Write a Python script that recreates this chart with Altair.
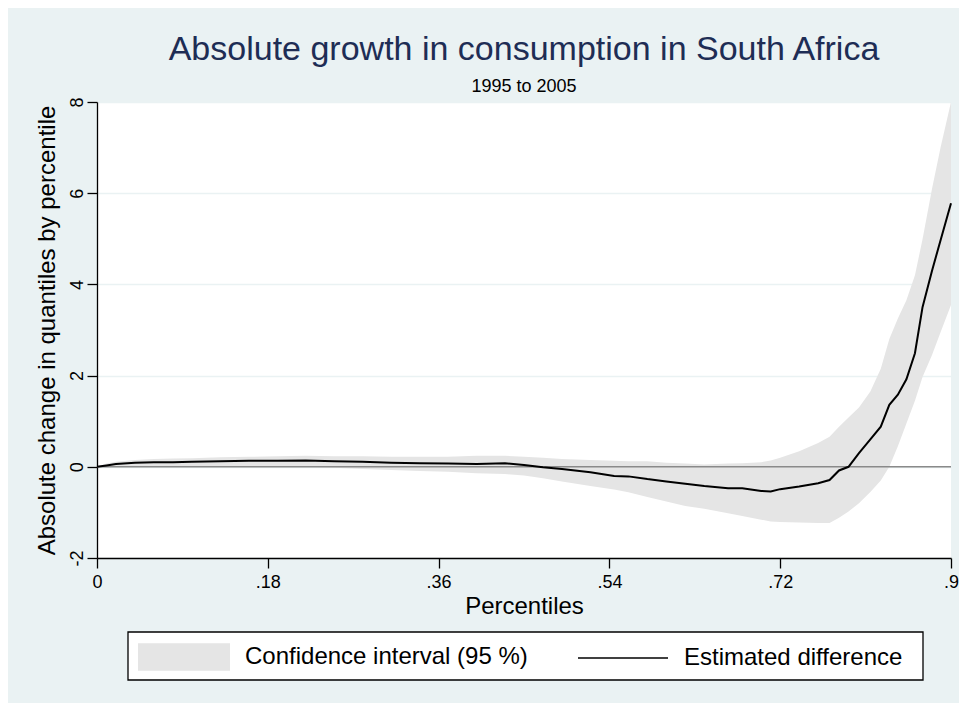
import altair as alt
import pandas as pd

# Percentiles (x) and readings
pct = [0.00, 0.01, 0.02, 0.04, 0.06, 0.08, 0.10, 0.13, 0.16, 0.19, 0.22, 0.25,
       0.28, 0.31, 0.34, 0.37, 0.40, 0.43, 0.45, 0.47, 0.49, 0.52, 0.545, 0.56,
       0.58, 0.60, 0.62, 0.64, 0.665, 0.68, 0.70, 0.71, 0.72, 0.74, 0.76, 0.772,
       0.782, 0.792, 0.803, 0.815, 0.826, 0.835, 0.844, 0.853, 0.862, 0.870,
       0.880, 0.889, 0.90]
estimate = [0.00, 0.03, 0.06, 0.09, 0.10, 0.10, 0.11, 0.12, 0.13, 0.13, 0.14, 0.12,
            0.11, 0.09, 0.08, 0.07, 0.06, 0.08, 0.04, -0.01, -0.05, -0.12, -0.20, -0.21,
            -0.27, -0.32, -0.37, -0.42, -0.47, -0.47, -0.53, -0.54, -0.49, -0.43, -0.36, -0.29,
            -0.08, 0.00, 0.30, 0.60, 0.88, 1.36, 1.58, 1.92, 2.49, 3.50,
            4.30, 4.97, 5.78]
ci_low = [0.00, -0.01, 0.00, 0.01, 0.02, 0.02, 0.02, 0.02, 0.02, 0.01, 0.00, -0.02,
          -0.05, -0.07, -0.09, -0.11, -0.14, -0.16, -0.19, -0.25, -0.32, -0.42, -0.50, -0.56,
          -0.66, -0.76, -0.86, -0.92, -1.02, -1.08, -1.16, -1.20, -1.21, -1.22, -1.23, -1.23,
          -1.12, -0.98, -0.80, -0.55, -0.30, 0.00, 0.45, 0.95, 1.45, 1.97,
          2.45, 2.95, 3.55]
ci_high = [0.00, 0.07, 0.11, 0.15, 0.17, 0.18, 0.19, 0.21, 0.22, 0.23, 0.24, 0.23,
           0.23, 0.22, 0.22, 0.22, 0.24, 0.24, 0.22, 0.20, 0.17, 0.15, 0.13, 0.12,
           0.12, 0.09, 0.07, 0.05, 0.07, 0.08, 0.10, 0.14, 0.20, 0.34, 0.52, 0.66,
           0.88, 1.08, 1.30, 1.65, 2.15, 2.80, 3.25, 3.65, 4.20, 4.99,
           6.10, 7.00, 8.00]

x_ticks = [0, 0.18, 0.36, 0.54, 0.72, 0.9]
y_ticks = [-2, 0, 2, 4, 6, 8]

CI_LABEL = "Confidence interval (95 %)"
EST_LABEL = "Estimated difference"

df = pd.DataFrame({"p": pct, "est": estimate, "lo": ci_low, "hi": ci_high})
zero = pd.DataFrame({"z": [0]})
frame = pd.DataFrame({"k": [0]})

FONT = "Liberation Sans"
BG = "#EAF2F3"
W, H = 854, 456

xscale = alt.Scale(domain=[0, 0.9], nice=False, zero=False)
yscale = alt.Scale(domain=[-2, 8], nice=False, zero=False)

x_axis = alt.Axis(
    values=x_ticks, title="Percentiles", grid=False,
    labelExpr="datum.value == 0 ? '0' : substring(format(datum.value, '.2~f'), 1)",
    labelFlush=False, labelOverlap=False, labelBound=False,
    labelFontSize=18, labelColor="black", labelBaseline="alphabetic", labelPadding=19,
    tickSize=10, tickColor="black", tickWidth=1.3, domainColor="black", domainWidth=1.3,
    titleFontSize=24, titleFontWeight="normal", titleColor="black",
    titleBaseline="alphabetic", titleY=55, titleX=W / 2, titleAlign="center",
)
y_axis = alt.Axis(
    values=y_ticks, title="Absolute change in quantiles by percentile",
    grid=True, gridColor=BG, gridWidth=1.5,
    labelExpr="'' + datum.value",
    labelAngle=270, labelAlign="center", labelBaseline="alphabetic", labelPadding=5,
    labelFontSize=18, labelColor="black", labelFlush=False, labelOverlap=False,
    labelBound=False,
    tickSize=10, tickColor="black", tickWidth=1.3, domainColor="black", domainWidth=1.3,
    titleFontSize=24, titleFontWeight="normal", titleColor="black",
    titleAngle=270, titleBaseline="alphabetic", titleAlign="center",
    titleX=-43, titleY=H / 2,
)

legend_common = dict(
    title=None, orient="none", direction="horizontal", padding=0,
    labelFontSize=24, labelColor="black", labelFont=FONT, labelOffset=15,
    labelLimit=400,
)

fill_enc = alt.Fill(
    "series:N",
    scale=alt.Scale(domain=[CI_LABEL], range=["#E5E5E5"]),
    legend=alt.Legend(legendX=41, legendY=509, symbolSize=8464,
                      symbolType="M-1,-0.3H1V0.3H-1Z", symbolStrokeWidth=0,
                      symbolOpacity=1, **legend_common),
)
stroke_enc = alt.Stroke(
    "series:N",
    scale=alt.Scale(domain=[EST_LABEL], range=["#000000"]),
    legend=alt.Legend(legendX=480, legendY=510, symbolSize=8100,
                      symbolType="M-1,0H1", symbolStrokeWidth=1.5,
                      symbolOpacity=1, **legend_common),
)

base = alt.Chart(df)

# legend frame (decoration only)
legend_box = alt.Chart(frame).mark_rect(fill="white", stroke="black", strokeWidth=1.3).encode(
    x=alt.value(31), x2=alt.value(826), y=alt.value(530), y2=alt.value(578)
)

band = base.transform_calculate(series=f"'{CI_LABEL}'").mark_area(opacity=1).encode(
    x=alt.X("p:Q", scale=xscale, axis=x_axis),
    y=alt.Y("lo:Q", scale=yscale, axis=y_axis),
    y2="hi:Q",
    fill=fill_enc,
)

zero_line = alt.Chart(zero).mark_rule(color="#8A8A8A", strokeWidth=1.5).encode(
    y=alt.Y("z:Q", scale=yscale)
)

line = base.transform_calculate(series=f"'{EST_LABEL}'").mark_line(strokeWidth=2).encode(
    x=alt.X("p:Q", scale=xscale),
    y=alt.Y("est:Q", scale=yscale),
    stroke=stroke_enc,
)

chart = alt.layer(legend_box, band, zero_line, line).properties(
    width=W, height=H,
    autosize=alt.AutoSizeParams(type="none"),
    padding={"left": 89, "top": 94, "right": 8, "bottom": 145},
    background=BG,
    title=alt.TitleParams(
        text="Absolute growth in consumption in South Africa",
        subtitle="1995 to 2005",
        fontSize=34, fontWeight="normal", color="#1E2D55", font=FONT,
        subtitleFontSize=18, subtitleColor="black", subtitleFont=FONT,
        subtitlePadding=11, anchor="middle", frame="group", offset=1,
    ),
).configure(font=FONT).configure_view(fill="white", strokeWidth=0)

chart.save("out.html", embed_options={"renderer": "svg", "actions": False})
